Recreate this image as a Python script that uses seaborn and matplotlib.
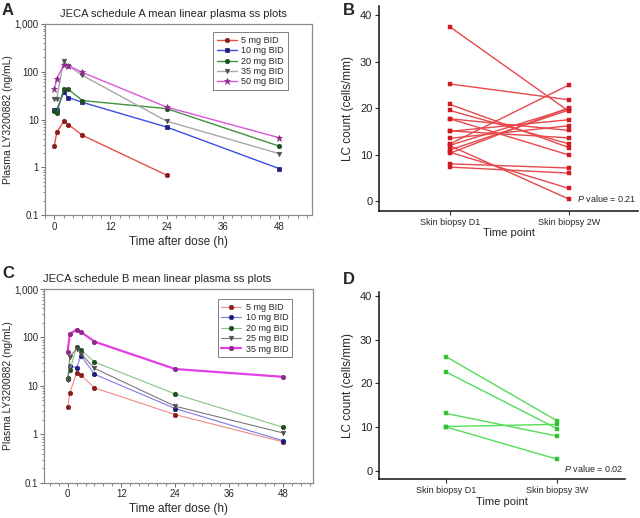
import numpy as np
import pandas as pd
import matplotlib
matplotlib.use("Agg")
import matplotlib.pyplot as plt
from matplotlib.ticker import MultipleLocator, LogLocator, NullFormatter
import seaborn as sns

# ---------------- data ----------------
time_h = [0, 0.5, 2, 3, 6, 24, 48]

a_doses = ["5 mg BID", "10 mg BID", "20 mg BID", "35 mg BID", "50 mg BID"]
a_5 = [2.8, 5.4, 9.2, 7.9, 4.7, 0.69, np.nan]
a_10 = [16.0, 16.0, 37.0, 29.0, 23.0, 7.0, 0.95]
a_20 = [15.3, 13.5, 44.0, 43.0, 25.0, 17.0, 2.8]
a_35 = [27.0, 27.0, 172.0, 133.0, 84.0, 9.3, 1.95]
a_50 = [43.0, 72.0, 138.0, 135.0, 97.0, 18.3, 4.2]

c_doses = ["5 mg BID", "10 mg BID", "20 mg BID", "25 mg BID", "35 mg BID"]
c_5 = [3.6, 7.2, 18.5, 16.6, 9.1, 2.55, 0.70]
c_10 = [13.6, 26.0, 23.8, 42.0, 17.4, 3.4, 0.74]
c_20 = [14.8, 21.0, 64.0, 55.0, 31.0, 6.8, 1.4]
c_25 = [13.0, 40.0, 58.0, 46.0, 23.0, 3.8, 1.07]
c_35 = [51.0, 119.0, 145.0, 130.0, 82.0, 22.3, 15.4]

b_timepoints = ["Skin biopsy D1", "Skin biopsy 2W"]
b_d1 = [37.5, 25.2, 20.8, 19.5, 17.7, 17.7, 15.1, 15.0, 13.5, 12.3, 12.0, 11.0, 10.3, 11.9, 10.5, 8.0, 7.3]
b_2w = [19.3, 21.8, 11.5, 12.3, 9.9, 15.2, 13.6, 17.5, 16.2, 25.0, 19.9, 19.6, 20.1, 0.4, 2.7, 7.1, 6.0]
b_p = "0.21"

d_timepoints = ["Skin biopsy D1", "Skin biopsy 3W"]
d_d1 = [26.1, 22.6, 13.1, 10.1, 10.0]
d_3w = [11.4, 9.6, 7.9, 10.6, 2.6]
d_p = "0.02"

# ---------------- style ----------------
sns.set_theme(style="ticks")
plt.rcParams["font.family"] = ["Liberation Sans", "DejaVu Sans"]
plt.rcParams["mathtext.fontset"] = "custom"
plt.rcParams["mathtext.it"] = "Liberation Sans:italic"
plt.rcParams["mathtext.rm"] = "Liberation Sans"

fig = plt.figure(figsize=(6.4, 5.18), dpi=100)
axA = fig.add_axes([0.0703, 0.5844, 0.4167, 0.3693])
axB = fig.add_axes([0.5927, 0.5932, 0.4042, 0.3952])
axC = fig.add_axes([0.0692, 0.0681, 0.4203, 0.3739])
axD = fig.add_axes([0.5927, 0.0747, 0.3839, 0.3622])


def pk_panel(ax, doses, series, line_colors, marker_colors, markers, lws, title, title_x, xlim, legend_bbox):
    for dose, vals, lc, mc, mk, lw in zip(doses, series, line_colors, marker_colors, markers, lws):
        df = pd.DataFrame({"t": time_h, "c": vals}).dropna()
        sns.lineplot(data=df, x="t", y="c", ax=ax, color=lc, lw=lw, marker=mk,
                     markersize=3.2 if mk != "*" else 4.5, markerfacecolor=mc,
                     markeredgecolor=mc, markeredgewidth=0.5, sort=False,
                     label=dose, estimator=None)
    ax.set_yscale("log")
    ax.set_ylim(0.1, 1000)
    ax.set_xlim(*xlim)
    ax.set_yticks([0.1, 1, 10, 100, 1000])
    ax.set_yticklabels(["0.1", "1", "10", "100", "1,000"])
    ax.yaxis.set_minor_locator(LogLocator(base=10, subs=np.arange(2, 10)))
    ax.yaxis.set_minor_formatter(NullFormatter())
    ax.set_xticks([0, 12, 24, 36, 48])
    ax.xaxis.set_minor_locator(MultipleLocator(2))
    ax.tick_params(axis="both", which="major", labelsize=7, length=3, width=0.6, color="#555555", pad=1.5)
    ax.tick_params(axis="both", which="minor", length=1.8, width=0.5, color="#555555")
    ax.tick_params(axis="y", which="both", right=False)
    for s in ax.spines.values():
        s.set_color("#8a8a8a")
        s.set_linewidth(0.9)
    ax.set_xlabel("Time after dose (h)", fontsize=8.5, labelpad=3)
    ax.set_ylabel("Plasma LY3200882 (ng/mL)", fontsize=7.5, labelpad=1)
    ax.set_title(title, fontsize=8, pad=5, x=title_x)
    leg = ax.legend(loc="upper right", bbox_to_anchor=legend_bbox, fontsize=6.5,
                    frameon=True, fancybox=False, handlelength=2.2, handletextpad=0.5,
                    borderpad=0.4, labelspacing=0.15, borderaxespad=0.3)
    leg.get_frame().set_edgecolor("#606060")
    leg.get_frame().set_linewidth(0.7)


pk_panel(axA, a_doses, [a_5, a_10, a_20, a_35, a_50],
         ["#e5504c", "#3c4ee0", "#3f923f", "#a8a8a8", "#dd55dd"],
         ["#8b1d1d", "#1d1d7a", "#1f4f1f", "#505050", "#8a2a8a"],
         ["o", "s", "o", "v", "*"],
         [1.0, 1.0, 1.0, 1.0, 1.0],
         "JECA schedule A mean linear plasma ss plots", 0.48, (-2, 55), (0.92, 0.97))

pk_panel(axC, c_doses, [c_5, c_10, c_20, c_25, c_35],
         ["#f08a86", "#7a7ae6", "#86c486", "#7a7a7a", "#e23fe2"],
         ["#8b1d1d", "#1d1d7a", "#1f4f1f", "#505050", "#8a2a8a"],
         ["o", "o", "o", "v", "o"],
         [0.8, 0.8, 0.8, 0.8, 1.6],
         "JECA schedule B mean linear plasma ss plots", 0.42, (-5.2, 54.8), (0.93, 0.96))


def lc_panel(ax, labels, v1, v2, color, mcolor, pval, ylim, xlim):
    n = len(v1)
    df = pd.DataFrame({
        "subject": list(range(n)) * 2,
        "tp": [0] * n + [1] * n,
        "lc": list(v1) + list(v2),
    })
    sns.lineplot(data=df, x="tp", y="lc", units="subject", estimator=None, ax=ax,
                 color=color, lw=1.0, marker="s", markersize=2.4,
                 markerfacecolor=mcolor, markeredgecolor=mcolor, markeredgewidth=0.3)
    ax.set_xlim(*xlim)
    ax.set_ylim(*ylim)
    ax.set_xticks([0, 1])
    ax.set_xticklabels(labels, fontsize=6.5)
    ax.set_yticks([0, 10, 20, 30, 40])
    ax.tick_params(axis="y", labelsize=8, length=3, width=0.8, color="#333333", pad=2)
    ax.tick_params(axis="x", length=3, width=0.8, color="#333333", pad=2)
    sns.despine(ax=ax)
    for s in ["left", "bottom"]:
        ax.spines[s].set_color("#111111")
        ax.spines[s].set_linewidth(1.1)
    ax.set_xlabel("Time point", fontsize=8, labelpad=1)
    ax.set_ylabel("LC count (cells/mm)", fontsize=8.5, labelpad=4)
    ax.text(0.995, 0.06, r"$\it{P}\ $" + "value = " + pval, transform=ax.transAxes,
            ha="right", va="center", fontsize=6.5)


lc_panel(axB, b_timepoints, b_d1, b_2w, "#e8484c", "#d01a22", b_p, (-2.1, 42), (-0.594, 1.58))
lc_panel(axD, d_timepoints, d_d1, d_3w, "#55dd55", "#33c233", d_p, (-2.0, 41), (-0.6, 1.61))

# panel letters
for lab, x, y in [("A", 0.003, 0.995), ("B", 0.535, 0.995), ("C", 0.003, 0.487), ("D", 0.535, 0.475)]:
    fig.text(x, y, lab, fontsize=12, fontweight="bold", ha="left", va="top")

fig.savefig("out.png", dpi=100)
